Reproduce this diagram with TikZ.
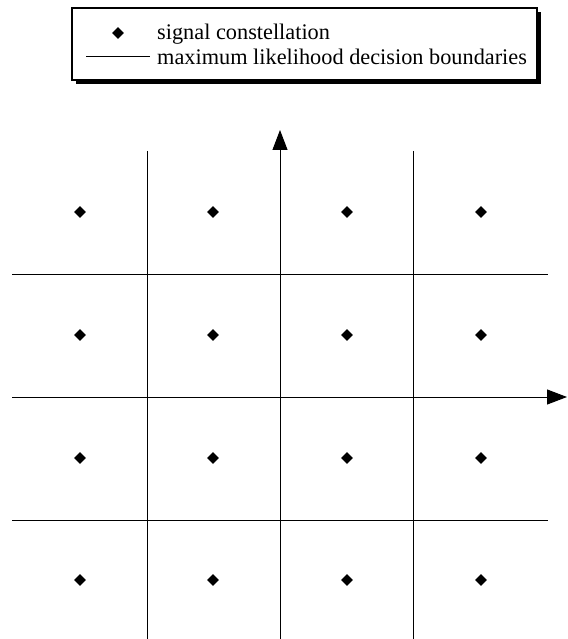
\documentclass[tikz,border=0pt]{standalone}
\usepackage{fontspec}
\setmainfont{Liberation Serif}
\usetikzlibrary{arrows.meta, shapes.geometric, positioning}

\tikzset{
    sym/.style={diamond, fill=black, inner sep=0pt, minimum size=12pt},
    legtext/.style={anchor=base west, inner sep=0pt, font=\fontsize{22.3}{26}\selectfont},
    bound/.style={line width=1pt},
    axis/.style={line width=1pt, -{Triangle[length=20pt, width=15pt]}}
}

\begin{document}
\begin{tikzpicture}[x=1pt, y=-1pt]
    \useasboundingbox (0,0) rectangle (567,639);

    % Legend box with shadow
    \fill (76,12) rectangle (541,84);
    \draw[line width=1.6pt, fill=white] (72,8) rectangle (537,80);
    \node[sym] (legsym) at (118,33) {};
    \coordinate (legA) at (86,57);
    \coordinate (legB) at (150,57);
    \draw[bound] (legA) -- (legB);
    \node[legtext] (legone) at (157,40) {signal constellation};
    \node[legtext] (legtwo) at (157,65) {maximum likelihood decision boundaries};

    % Decision boundaries
    \foreach \x/\n in {147/a, 413/c} {
        \coordinate (vt\n) at (\x,151);
        \coordinate (vb\n) at (\x,639);
        \draw[bound] (vt\n) -- (vb\n);
    }
    \foreach \y/\n in {274/a, 520/c} {
        \coordinate (hl\n) at (12,\y);
        \coordinate (hr\n) at (548,\y);
        \draw[bound] (hl\n) -- (hr\n);
    }

    % Axes
    \coordinate (yfoot) at (280,639);
    \coordinate (ytip) at (280,130);
    \coordinate (xfoot) at (12,397);
    \coordinate (xtip) at (567,397);
    \draw[axis] (yfoot) -- (ytip);
    \draw[axis] (xfoot) -- (xtip);

    % Signal constellation
    \foreach \x/\i in {80/1, 213/2, 347/3, 481/4} {
        \foreach \y/\j in {212/1, 335/2, 458/3, 580/4} {
            \node[sym] (s\i\j) at (\x,\y) {};
        }
    }

\end{tikzpicture}
\end{document}
